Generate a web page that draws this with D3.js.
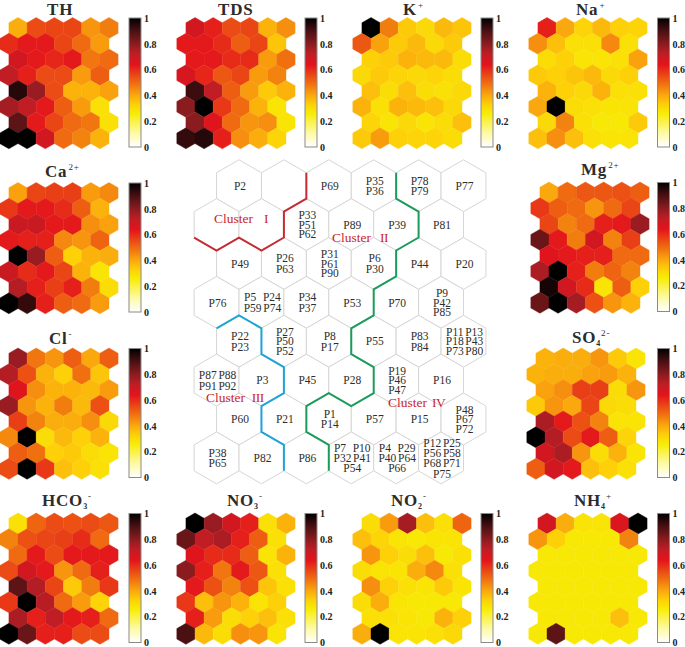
<!DOCTYPE html>
<html>
<head>
<meta charset="utf-8">
<script src="https://cdnjs.cloudflare.com/ajax/libs/d3/7.8.5/d3.min.js"></script>
<style>
  html, body { margin: 0; padding: 0; background: #fff; }
  text { font-family: "Liberation Serif", serif; }
  svg { display: block; }
</style>
</head>
<body>
<svg id="chart" width="685" height="647"></svg>
<script>
// component planes, rows top to bottom, 6 cells per row
const TH = [[.39,.55,.56,.56,.43,.47],[.6,.63,.63,.56,.5,.42],[.68,.63,.61,.63,.48,.5],[.72,.62,.55,.55,.42,.52],
  [.95,.78,.55,.38,.38,.41],[.76,.72,.63,.52,.42,.29],[.87,.63,.56,.5,.48,.29],[1,1,.68,.5,.46,.38]];
const TDS = [[.68,.62,.55,.56,.38,.44],[.63,.63,.6,.52,.56,.35],[.63,.63,.6,.6,.42,.49],[.67,.61,.53,.56,.42,.46],
  [.92,.72,.52,.42,.34,.38],[.8,1,.58,.5,.38,.28],[.8,.65,.5,.43,.44,.28],[.93,.95,.62,.44,.39,.32]];
const K = [[1,.47,.34,.31,.37,.35],[.53,.41,.34,.37,.31,.34],[.33,.34,.38,.37,.37,.3],[.31,.34,.32,.31,.32,.3],
  [.36,.3,.36,.3,.29,.31],[.38,.29,.38,.37,.36,.31],[.32,.28,.31,.28,.3,.36],[.34,.42,.33,.32,.32,.3]];
const Na = [[.62,.4,.32,.37,.33,.32],[.44,.36,.29,.29,.45,.29],[.3,.33,.28,.28,.29,.41],[.34,.33,.35,.37,.31,.33],
  [.38,.33,.31,.38,.29,.29],[.4,1,.3,.29,.28,.28],[.31,.46,.29,.27,.27,.34],[.36,.44,.36,.29,.28,.28]];
const Ca = [[.41,.56,.57,.57,.42,.45],[.58,.63,.63,.6,.52,.38],[.7,.7,.63,.63,.44,.41],[.63,.62,.62,.45,.43,.51],
  [1,.78,.52,.33,.38,.39],[.7,.6,.63,.56,.38,.28],[.74,.62,.57,.62,.47,.3],[1,.93,.62,.52,.5,.42]];
const Cl = [[.78,.48,.43,.52,.4,.52],[.74,.54,.38,.33,.49,.35],[.65,.44,.38,.38,.37,.42],[.78,.43,.38,.47,.37,.54],
  [.57,.46,.39,.39,.44,.31],[.45,1,.3,.37,.33,.38],[.52,.49,.33,.34,.3,.28],[.55,1,.58,.36,.33,.29]];
const Mg = [[.4,.5,.53,.53,.54,.52],[.58,.52,.5,.43,.5,.56],[.56,.46,.5,.62,.63,.78],[.85,.63,.47,.68,.46,.57],
  [.65,.63,.62,.62,.5,.5],[.75,1,.62,.47,.51,.46],[.97,.68,.6,.28,.52,.33],[.85,1,.76,.54,.43,.38]];
const SO4 = [[.38,.39,.39,.43,.34,.28],[.38,.39,.39,.41,.42,.38],[.41,.44,.57,.57,.3,.43],[.34,.43,.4,.56,.31,.3],
  [.75,.63,.54,.46,.28,.28],[1,.74,.55,.63,.52,.32],[.68,.75,.43,.3,.38,.28],[.52,.68,.63,.36,.33,.29]];
const HCO3 = [[.29,.51,.55,.54,.55,.53],[.46,.54,.56,.57,.6,.5],[.5,.63,.55,.63,.63,.63],[.55,.68,.63,.43,.5,.62],
  [.87,.74,.56,.34,.47,.58],[.58,1,.73,.5,.42,.32],[.75,.62,.72,.63,.62,.5],[1,.85,.62,.62,.55,.55]];
const NO3 = [[1,.78,.68,.62,.29,.38],[.85,.72,.75,.62,.52,.29],[.65,.6,.6,.52,.28,.38],[.8,.62,.48,.63,.53,.29],
  [.63,.54,.46,.54,.35,.29],[.58,.36,.43,.38,.28,.33],[.62,.42,.3,.33,.36,.29],[.9,.37,.3,.44,.43,.28]];
const NO2 = [[.3,.42,.76,.36,.29,.51],[.36,.32,.28,.27,.28,.28],[.43,.33,.3,.36,.27,.29],[.3,.28,.28,.39,.45,.29],
  [.44,.33,.29,.28,.34,.28],[.3,.39,.28,.27,.27,.27],[.29,.29,.28,.27,.38,.33],[.39,1,.28,.28,.29,.31]];
const NH4 = [[.68,.39,.28,.28,.66,1],[.43,.33,.27,.27,.27,.46],[.27,.27,.27,.27,.27,.27],[.27,.27,.27,.27,.27,.27],
  [.27,.27,.27,.27,.27,.27],[.27,.27,.27,.27,.27,.27],[.27,.27,.27,.27,.36,.27],[.27,.87,.27,.27,.27,.27]];

// sample labels of the big map, "|" splits lines
const sampleLabels = [
  ["P2","","P69","P35|P36","P78|P79","P77"],
  ["","","P33|P51|P62","P89","P39","P81"],
  ["P49","P26|P63","P31|P61|P90","P6|P30","P44","P20"],
  ["P76","P5    P24|P59 P74","P34|P37","P53","P70","P9|P42|P85"],
  ["P22|P23","P27|P50|P52","P8|P17","P55","P83|P84","P11 P13|P18 P43|P73 P80"],
  ["P87 P88|P91 P92","P3","P45","P28","P19|P46|P47","P16"],
  ["P60","P21","P1|P14","P57","P15","P48|P67|P72"],
  ["P38|P65","P82","P86","P7    P10|P32 P41|P54","P4    P29|P40 P64|P66","P12 P25|P56 P58|P68 P71|P75"]
];

// cluster borders run along hex corners: [half widths, quarter heights] from the first hex
const redBorder = [[3,-1],[3,1],[2,2],[2,4],[1,5],[0,4],[-1,5],[-2,4]];
const greenBorder = [[7,-1],[7,1],[8,2],[8,4],[7,5],[7,7],[6,8],[6,10],[5,11],[5,13],[6,14],[6,16],[5,17],[4,16],[3,17],[3,19],[4,20],[4,22]];
const blueBorder = [[-1,11],[0,10],[1,11],[1,13],[2,14],[2,16],[1,17],[1,19],[2,20],[2,22]];

const clusterNumerals = ["I","II","III","IV"];
const clusterSpots = [[214,223],[332,242],[206,402],[388,407]];
const clusterGaps = [11,9,6.7,5];

const barTicks = [0,.2,.4,.6,.8,1];

const svg = d3.select("#chart");

const color = d3.scaleLinear()
  .domain([0,.12,.26,.33,.4,.5,.64,.72,.8,.9,1])
  .range(["#ffffff","#fdf99a","#f7ec05","#fdd008","#faa80e","#ef6a10","#e3131c","#c01d24","#8a1c20","#4a1012","#000000"]);

const defs = svg.append("defs");
const grad = defs.append("linearGradient").attr("id","cbar").attr("x1",0).attr("y1",1).attr("x2",0).attr("y2",0);
d3.range(0,1.001,.02).forEach(t => {
  grad.append("stop").attr("offset",t).attr("stop-color",color(t));
});

function hexPoints(r) {
  return d3.range(6).map(i => {
    let a = Math.PI/3*i - Math.PI/2;
    return [r*Math.cos(a), r*Math.sin(a)].join(",");
  }).join(" ");
}

// one small component plane with its colour bar
function drawPlane(p) {
  let w = 18.2, r = w/Math.sqrt(3), step = r*1.5;
  let g = svg.append("g");
  let cells = [];
  p.values.forEach((row,i) => row.forEach((v,j) => cells.push({i:i,j:j,v:v})));

  let x = d3.scaleLinear().domain([0,1]).range([p.x, p.x+w]);
  let y = d3.scaleLinear().domain([0,1]).range([p.y, p.y+step]);

  // thin stroke in the cell colour closes the seams between hexes
  g.selectAll("polygon").data(cells).enter().append("polygon")
    .attr("points", hexPoints(r))
    .attr("transform", d => "translate(" + x(d.j - (d.i%2)*.5) + "," + y(d.i) + ")")
    .attr("fill", d => color(d.v))
    .attr("stroke", d => color(d.v))
    .attr("stroke-width", .4);

  let bw = 12, bh = 129;
  let by = p.y - 10;
  let scale = d3.scaleLinear().domain([0,1]).range([by+bh, by]);
  g.append("rect").attr("x",p.bx).attr("y",by).attr("width",bw).attr("height",bh)
    .attr("fill","url(#cbar)").attr("stroke","#8a8a8a").attr("stroke-width",1);
  let axis = d3.axisRight(scale).tickValues(barTicks).tickSize(0).tickPadding(3).tickFormat(d3.format("~g"));
  let ag = g.append("g").attr("transform","translate(" + (p.bx+bw) + ",0)").call(axis);
  ag.select(".domain").remove();
  ag.selectAll("text").attr("fill","#222").style("font-family","'Liberation Serif', serif")
    .style("font-size","10px").style("font-weight","bold");

  let t = g.append("text").attr("x",p.tx).attr("y",p.ty).attr("fill","#2c2c2c")
    .style("font-size","17px").style("font-weight","bold").style("letter-spacing","0.8px");
  t.append("tspan").text(p.name);
  if (p.sub) t.append("tspan").attr("dy",3).style("font-size","8px").text(p.sub);
  if (p.sup) t.append("tspan").attr("dy",p.sub ? -10 : -7).attr("dx",p.sub ? 0 : 1)
    .style("font-size","9px").style("font-weight","normal").text(p.sup);
}

const planes = [
  {values:TH,  name:"TH",  x:18, y:28, bx:129, tx:47, ty:15},
  {values:TDS, name:"TDS", x:195,y:28, bx:305, tx:218,ty:15},
  {values:K,   name:"K",   sup:"+", x:371,y:28, bx:481, tx:403,ty:15},
  {values:Na,  name:"Na",  sup:"+", x:547,y:28, bx:657.5,tx:576,ty:15},
  {values:Ca,  name:"Ca",  sup:"2+",x:18, y:193,bx:129, tx:45, ty:177},
  {values:Mg,  name:"Mg",  sup:"2+",x:549,y:192.5,bx:657.5,tx:581,ty:175},
  {values:Cl,  name:"Cl",  sup:"-", x:18, y:358.5,bx:129,tx:49, ty:344},
  {values:SO4, name:"SO",  sub:"4", sup:"2-",x:545,y:358.5,bx:657.5,tx:572,ty:343},
  {values:HCO3,name:"HCO", sub:"3", sup:"-", x:18, y:523.5,bx:129, tx:42, ty:506},
  {values:NO3, name:"NO",  sub:"3", sup:"-", x:195,y:523.5,bx:305, tx:227,ty:506},
  {values:NO2, name:"NO",  sub:"2", sup:"-", x:371,y:523.5,bx:481, tx:391,ty:506},
  {values:NH4, name:"NH",  sub:"4", sup:"+", x:547,y:523.5,bx:657.5,tx:574,ty:506}
];
planes.forEach(drawPlane);

// big map in the middle
const bigW = 44.9, bigR = bigW/Math.sqrt(3), bigStep = bigR*1.5;
const bigX = d3.scaleLinear().domain([0,1]).range([239, 239+bigW]);
const bigY = d3.scaleLinear().domain([0,1]).range([185.7, 185.7+bigStep]);

const bigCells = [];
sampleLabels.forEach((row,i) => row.forEach((s,j) => bigCells.push({i:i,j:j,lines:s ? s.split("|") : []})));

const big = svg.append("g");
const node = big.selectAll(".cell").data(bigCells).enter().append("g")
  .attr("class","cell")
  .attr("transform", d => "translate(" + bigX(d.j - (d.i%2)*.5) + "," + bigY(d.i) + ")");

node.append("polygon").attr("points", hexPoints(bigR))
  .attr("fill","#fff").attr("stroke","#d6d6d6").attr("stroke-width",1);

node.each(function(d) {
  let tight = d.lines.length == 3 && d.i < 7;
  let lh = tight ? 9.5 : 10.4;
  d3.select(this).selectAll("text").data(d.lines).enter().append("text")
    .attr("x",1)
    .attr("y",(l,k) => (k - (d.lines.length-1)/2)*lh + 4.2)
    .attr("text-anchor","middle")
    .attr("xml:space","preserve")
    .style("white-space","pre")
    .style("word-spacing","-1.2px")
    .style("font-size","11.5px")
    .attr("fill","#2e2e2e")
    .text(l => l);
});

// corner coordinates go through the same scales as the hexes
const borderLine = d3.line()
  .x(d => bigX(d[0]/2))
  .y(d => bigY(d[1]/3));

[[redBorder,"#c62a32"],[greenBorder,"#1c9c5a"],[blueBorder,"#1fa3d6"]].forEach(b => {
  big.append("path").attr("d",borderLine(b[0])).attr("fill","none")
    .attr("stroke",b[1]).attr("stroke-width",2);
});

const clusters = big.selectAll(".cluster").data(clusterNumerals).enter().append("text")
  .attr("class","cluster")
  .attr("x",(d,i) => clusterSpots[i][0])
  .attr("y",(d,i) => clusterSpots[i][1])
  .style("font-size","13.5px")
  .attr("fill","#cc262c");
clusters.append("tspan").text("Cluster");
clusters.append("tspan").attr("dx",(d,i) => clusterGaps[i]).style("letter-spacing","-0.5px").text(d => d);
</script>
</body>
</html>
